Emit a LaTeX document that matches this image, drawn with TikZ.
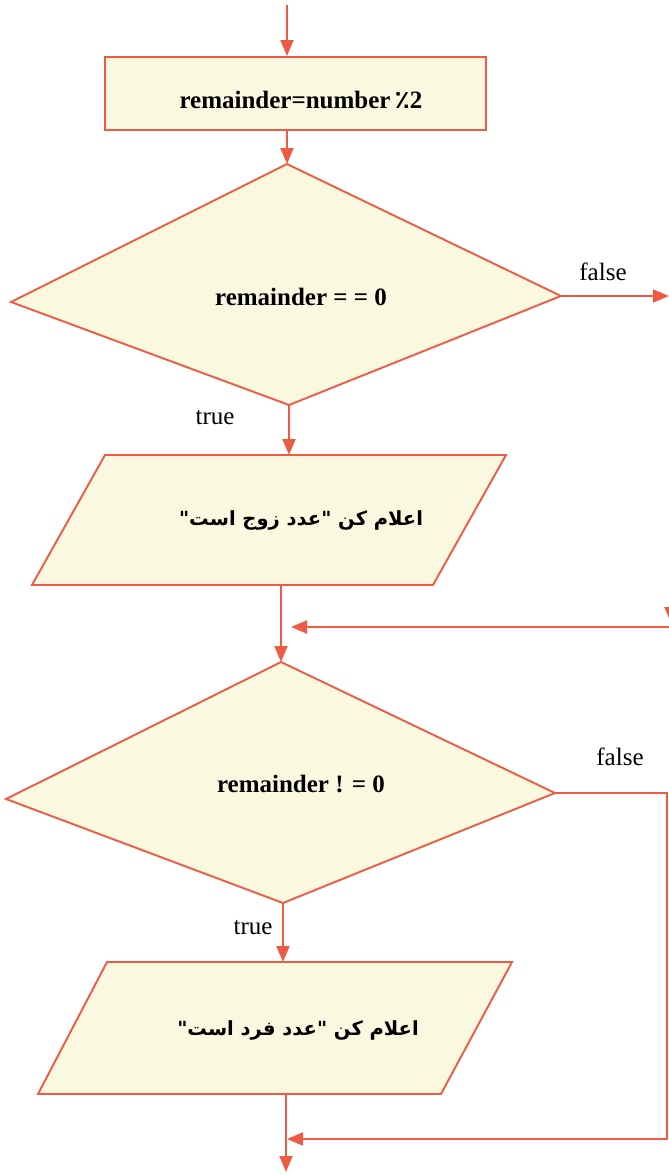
\documentclass[tikz,border=0pt]{standalone}
\usepackage{fontspec}
\setmainfont{Liberation Serif}
\newfontfamily\arabicfont[Script=Arabic]{DejaVu Sans}
\TeXXeTstate=1
\usetikzlibrary{arrows.meta}
\definecolor{flowline}{HTML}{EE5B45}
\definecolor{flowfill}{HTML}{FAF8DF}
\tikzset{
  shapeline/.style={draw=flowline, fill=flowfill, line width=1.9pt, line join=miter},
  conn/.style={draw=flowline, line width=1.9pt, -{Triangle[length=16pt,width=13pt]}},
  boldtxt/.style={font=\fontsize{25}{28}\selectfont\bfseries, inner sep=0pt},
  artxt/.style={font=\fontsize{19.5}{24}\selectfont\arabicfont\bfseries, inner sep=0pt},
  lbl/.style={font=\fontsize{25}{28}\selectfont, inner sep=0pt}
}
\begin{document}
\begin{tikzpicture}[x=1pt,y=-1pt]
\useasboundingbox (0,0) rectangle (669,1175);
% coordinates
\coordinate (start) at (287,5);
\coordinate (d1t) at (287,164);
\coordinate (d1r) at (561,296);
\coordinate (d1b) at (289,405);
\coordinate (d1l) at (11,302);
\coordinate (f1end) at (669,296);
\coordinate (p1a) at (105,455);
\coordinate (p1b) at (506,455);
\coordinate (p1c) at (433,585);
\coordinate (p1d) at (32,585);
\coordinate (p1out) at (281,585);
\coordinate (d2t) at (281,662);
\coordinate (d2r) at (555,793);
\coordinate (d2b) at (283,903);
\coordinate (d2l) at (6,799);
\coordinate (loopin) at (669,627);
\coordinate (loopend) at (291,627);
\coordinate (f2corner) at (667,793);
\coordinate (f2down) at (667,1139);
\coordinate (f2end) at (287,1139);
\coordinate (p2a) at (107,962);
\coordinate (p2b) at (512,962);
\coordinate (p2c) at (441,1094);
\coordinate (p2d) at (38,1094);
\coordinate (p2out) at (286,1094);
\coordinate (finish) at (286,1172);
\coordinate (tipedge) at (671,590);
\coordinate (tipedgeend) at (671,623);

% shapes
\node[shapeline, minimum width=381pt, minimum height=73pt, inner sep=0pt] (box) at (295.5,93.5) {};
\path[shapeline] (d1t) -- (d1r) -- (d1b) -- (d1l) -- cycle;
\path[shapeline] (p1a) -- (p1b) -- (p1c) -- (p1d) -- cycle;
\path[shapeline] (d2t) -- (d2r) -- (d2b) -- (d2l) -- cycle;
\path[shapeline] (p2a) -- (p2b) -- (p2c) -- (p2d) -- cycle;

% texts
\node[boldtxt] (t1) at (301,100) {remainder=number\,{\arabicfont ٪}2};
\node[boldtxt] (t2) at (301,297) {remainder = = 0};
\node[artxt] (t3) at (301,520) {\beginR اعلام کن "عدد زوج است"\endR};
\node[boldtxt] (t4) at (301,784) {remainder ! = 0};
\node[artxt] (t5) at (298,1030) {\beginR اعلام کن "عدد فرد است"\endR};

% labels
\node[lbl] (lf1) at (603,272) {false};
\node[lbl] (lt1) at (215,418) {true};
\node[lbl] (lf2) at (620,757) {false};
\node[lbl] (lt2) at (253,928) {true};

% connectors
\draw[conn] (start) -- (start |- box.north);
\draw[conn] (d1t |- box.south) -- (d1t);
\draw[conn] (d1r) -- (f1end);
\draw[conn] (d1b) -- (d1b |- p1a);
\draw[conn] (p1out) -- (d2t);
\draw[conn] (loopin) -- (loopend);
\draw[conn] (tipedge) -- (tipedgeend);
\draw[conn] (d2r) -- (f2corner) -- (f2down) -- (f2end);
\draw[conn] (d2b) -- (d2b |- p2a);
\draw[conn] (p2out) -- (finish);
\end{tikzpicture}
\end{document}
